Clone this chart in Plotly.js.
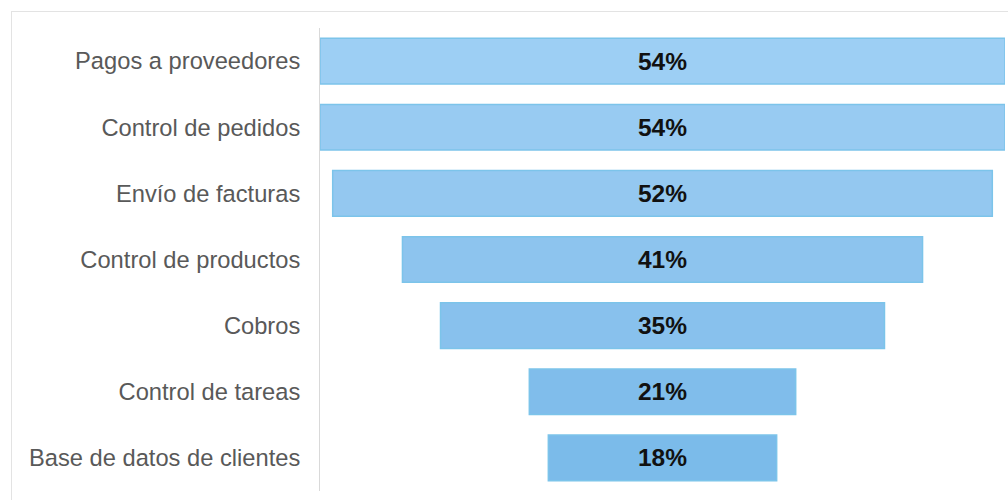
<!DOCTYPE html>
<html>
<head>
<meta charset="utf-8">
<script src="https://cdn.plot.ly/plotly-3.0.1.min.js"></script>
<style>
  html, body { margin: 0; padding: 0; background: #ffffff; }
  #frame { position: absolute; left: 11px; top: 11px; width: 1200px; height: 700px; border: 1px solid #e3e3e3; box-sizing: border-box; }
  #chart { position: absolute; left: 0; top: 0; width: 1008px; height: 500px; }
</style>
</head>
<body>
<div id="frame"></div>
<div id="chart"></div>
<script>
const categories = [
  "Pagos a proveedores",
  "Control de pedidos",
  "Envío de facturas",
  "Control de productos",
  "Cobros",
  "Control de tareas",
  "Base de datos de clientes"
];
const values = [54, 54, 52, 41, 35, 21, 18];

const barColors = ["#9dcff4", "#98cbf2", "#94c8f0", "#8dc4ee", "#88c1ed", "#80bdeb", "#7bbbea"];

const trace = {
  type: "funnel",
  y: categories,
  x: values,
  orientation: "h",
  width: 0.69,
  texttemplate: "%{x}%",
  textposition: "inside",
  insidetextanchor: "middle",
  textfont: { family: "Liberation Sans, Arial, sans-serif", size: 24.5, color: "#111111", weight: "bold" },
  marker: { color: barColors, line: { color: "#7cc4ea", width: 1.5 } },
  connector: { visible: false },
  hoverinfo: "skip"
};

const layout = {
  width: 1008,
  height: 500,
  margin: { l: 320, r: 3, t: 28, b: 9, pad: 0 },
  paper_bgcolor: "rgba(0,0,0,0)",
  plot_bgcolor: "rgba(0,0,0,0)",
  showlegend: false,
  xaxis: { visible: false, range: [-27, 27], fixedrange: true },
  yaxis: {
    showline: true,
    linecolor: "#d9d9d9",
    linewidth: 1,
    showgrid: false,
    zeroline: false,
    ticks: "",
    ticklabelstandoff: 14,
    tickfont: { family: "Liberation Sans, Arial, sans-serif", size: 23.7, color: "#595959" }
  }
};

Plotly.newPlot("chart", [trace], layout, { displayModeBar: false, staticPlot: true });
</script>
</body>
</html>
